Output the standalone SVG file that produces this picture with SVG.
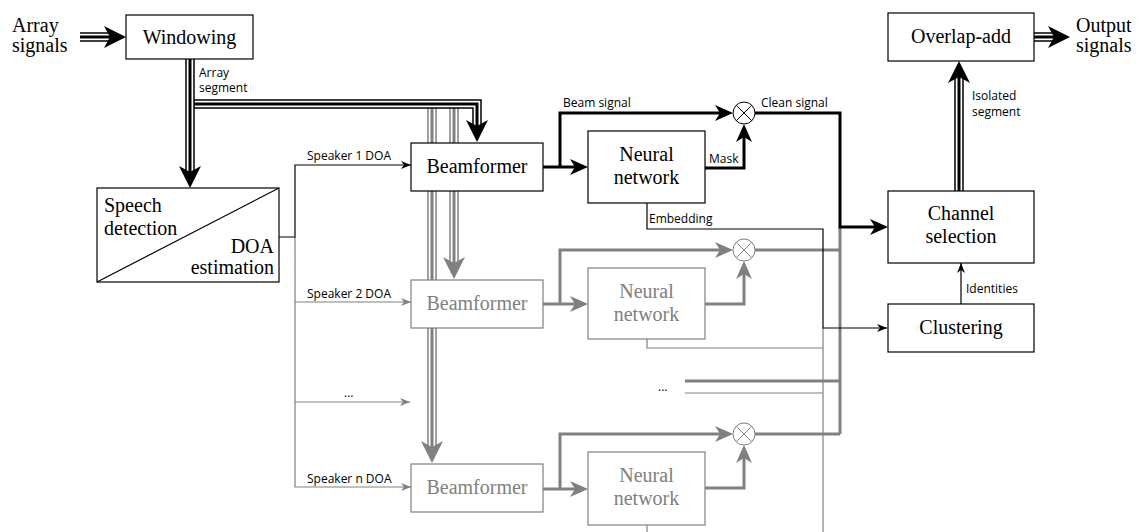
<svg xmlns="http://www.w3.org/2000/svg" xmlns:xlink="http://www.w3.org/1999/xlink" width="1142" height="532" viewBox="0 0 1142 532">
<style>
.node rect{fill:#fff;stroke:#000;stroke-width:1.2}
.gnode rect{fill:#fff;stroke:#808080;stroke-width:1.2}
.nt{font-size:20px;fill:#000;text-anchor:middle}
.gnode .nt{fill:#808080}
.lt{font-size:12px;fill:#000}
.thin{fill:none;stroke:#000;stroke-width:1.2}
.gthin{fill:none;stroke:#808080;stroke-width:1.2}
.thick{fill:none;stroke:#000;stroke-width:3}
.gthick{fill:none;stroke:#808080;stroke-width:3}
.o{fill:none;stroke:#000;stroke-width:9.5;stroke-linejoin:miter}
.w{fill:none;stroke:#fff;stroke-width:6.5;stroke-linejoin:miter}
.c{fill:none;stroke:#000;stroke-width:3;stroke-linejoin:miter}
.go{fill:none;stroke:#808080;stroke-width:9.5}
.gc{fill:none;stroke:#808080;stroke-width:3}
.mul circle{fill:#fff;stroke:#000;stroke-width:1}
.mul line{stroke:#000;stroke-width:1}
.gmul circle{fill:#fff;stroke:#808080;stroke-width:1}
.gmul line{stroke:#808080;stroke-width:1}
</style>
<defs>
<marker id="at" viewBox="0 0 10 8" refX="10" refY="4" markerWidth="10" markerHeight="8" markerUnits="userSpaceOnUse" orient="auto"><path d="M0,0 L10,4 L0,8 L3,4 Z" fill="#000"/></marker>
<marker id="gat" viewBox="0 0 10 8" refX="10" refY="4" markerWidth="10" markerHeight="8" markerUnits="userSpaceOnUse" orient="auto"><path d="M0,0 L10,4 L0,8 L3,4 Z" fill="#808080"/></marker>
<marker id="ak" viewBox="0 0 18 16" refX="5" refY="8" markerWidth="18" markerHeight="16" markerUnits="userSpaceOnUse" orient="auto"><path d="M0,0 L18,8 L0,16 L5,8 Z" fill="#000"/></marker>
<marker id="gak" viewBox="0 0 18 16" refX="5" refY="8" markerWidth="18" markerHeight="16" markerUnits="userSpaceOnUse" orient="auto"><path d="M0,0 L18,8 L0,16 L5,8 Z" fill="#808080"/></marker>
<path id="bighead" d="M0,0 L-22,-11 L-16,0 L-22,11 Z"/>
<path id="bIn" d="M80,37 H112"/>
<path id="bOut" d="M1034,37 H1056"/>
<path id="bIso" d="M959,191 V75"/>
<path id="bDown" d="M190,59 V174"/>
<path id="bHor" d="M190,104 H477 V128"/>
<path id="gA" d="M432,104 V449"/>
<path id="gB" d="M454,104 V265"/>
</defs>

<g id="connectors">
  <use xlink:href="#gA" class="go"/><use xlink:href="#gA" class="w"/><use xlink:href="#gA" class="gc"/>
  <use xlink:href="#gB" class="go"/><use xlink:href="#gB" class="w"/><use xlink:href="#gB" class="gc"/>
  <use xlink:href="#bighead" transform="translate(432,463) rotate(90)" fill="#808080"/>
  <use xlink:href="#bighead" transform="translate(454,279) rotate(90)" fill="#808080"/>
  <use xlink:href="#bHor" class="o"/><use xlink:href="#bHor" class="w"/><use xlink:href="#bHor" class="c"/>
  <use xlink:href="#bDown" class="o"/><use xlink:href="#bDown" class="w"/><use xlink:href="#bDown" class="c"/>
  <use xlink:href="#bighead" transform="translate(477,142) rotate(90)" fill="#000"/>
  <use xlink:href="#bighead" transform="translate(190,188) rotate(90)" fill="#000"/>
  <use xlink:href="#bIn" class="o"/><use xlink:href="#bIn" class="w"/><use xlink:href="#bIn" class="c"/>
  <use xlink:href="#bighead" transform="translate(126,37)" fill="#000"/>
  <use xlink:href="#bOut" class="o"/><use xlink:href="#bOut" class="w"/><use xlink:href="#bOut" class="c"/>
  <use xlink:href="#bighead" transform="translate(1070,37)" fill="#000"/>
  <use xlink:href="#bIso" class="o"/><use xlink:href="#bIso" class="w"/><use xlink:href="#bIso" class="c"/>
  <use xlink:href="#bighead" transform="translate(959,61) rotate(-90)" fill="#000"/>

  <path class="gthin" d="M295,237 V487 H411" marker-end="url(#gat)"/>
  <path class="gthin" d="M295,302 H411" marker-end="url(#gat)"/>
  <path class="gthin" d="M295,402 H410" marker-end="url(#gat)"/>
  <path class="thin" d="M279,237 H295 V165 H411" marker-end="url(#at)"/>

  <path class="gthick" d="M840,227 V434"/>
  <path class="gthick" d="M685,381 H840"/>
  <path class="gthick" d="M755,250 H840"/>
  <path class="gthick" d="M755,434 H840"/>
  <path class="gthick" d="M543,304 H575" marker-end="url(#gak)"/>
  <path class="gthick" d="M560,304 V250 H720" marker-end="url(#gak)"/>
  <path class="gthick" d="M705,304 H744 V274" marker-end="url(#gak)"/>
  <path class="gthick" d="M543,489 H575" marker-end="url(#gak)"/>
  <path class="gthick" d="M560,489 V434 H720" marker-end="url(#gak)"/>
  <path class="gthick" d="M705,488 H744 V458" marker-end="url(#gak)"/>
  <path class="gthin" d="M823,328 V532"/>
  <path class="gthin" d="M647,339 V348 H823"/>
  <path class="gthin" d="M685,393 H823"/>
  <path class="gthin" d="M647,525 V532"/>

  <path class="thick" d="M543,167 H575" marker-end="url(#ak)"/>
  <path class="thick" d="M560,167 V113 H720" marker-end="url(#ak)"/>
  <path class="thick" d="M705,168 H744 V137" marker-end="url(#ak)"/>
  <path class="thick" d="M755,113 H840 V227 H875" marker-end="url(#ak)"/>
  <path class="thin" d="M647,203 V229 H823 V328 H887" marker-end="url(#at)"/>
  <path class="thin" d="M961,304 V263" marker-end="url(#at)"/>

  <g font-family="Open Sans, Liberation Sans, sans-serif">
  <text class="lt" x="199" y="77">Array</text>
  <text class="lt" x="199" y="92">segment</text>
  <text class="lt" x="307" y="160">Speaker 1 DOA</text>
  <text class="lt" x="307" y="298">Speaker 2 DOA</text>
  <text class="lt" x="344" y="397">...</text>
  <text class="lt" x="658" y="391">...</text>
  <text class="lt" x="307" y="483">Speaker n DOA</text>
  <text class="lt" x="563" y="107">Beam signal</text>
  <text class="lt" x="761" y="107">Clean signal</text>
  <text class="lt" x="709" y="163">Mask</text>
  <text class="lt" x="649" y="223">Embedding</text>
  <text class="lt" x="972" y="100">Isolated</text>
  <text class="lt" x="972" y="116">segment</text>
  <text class="lt" x="966" y="293">Identities</text>
  </g>
  <g font-family="Liberation Serif, serif">
  <text class="nt" x="12" y="32" style="text-anchor:start">Array</text>
  <text class="nt" x="12" y="52" style="text-anchor:start">signals</text>
  <text class="nt" x="1076" y="32" style="text-anchor:start">Output</text>
  <text class="nt" x="1076" y="52" style="text-anchor:start">signals</text>
  </g>
</g>

<g id="mul1" class="mul"><circle cx="744" cy="113" r="11"/><line x1="736.2" y1="105.2" x2="751.8" y2="120.8"/><line x1="736.2" y1="120.8" x2="751.8" y2="105.2"/></g>
<g id="mul2" class="gmul"><circle cx="744" cy="250" r="11"/><line x1="736.2" y1="242.2" x2="751.8" y2="257.8"/><line x1="736.2" y1="257.8" x2="751.8" y2="242.2"/></g>
<g id="muln" class="gmul"><circle cx="744" cy="434" r="11"/><line x1="736.2" y1="426.2" x2="751.8" y2="441.8"/><line x1="736.2" y1="441.8" x2="751.8" y2="426.2"/></g>

<g font-family="Liberation Serif, serif">
<g id="windowing" class="node"><rect x="126" y="15" width="127" height="44"/><text class="nt" x="189.5" y="44">Windowing</text></g>
<g id="speech" class="node"><rect x="97" y="188" width="182" height="94"/><line x1="97" y1="282" x2="279" y2="188" stroke="#000" stroke-width="1.2"/>
  <text class="nt" x="104" y="212" style="text-anchor:start">Speech</text>
  <text class="nt" x="104" y="235" style="text-anchor:start">detection</text>
  <text class="nt" x="274" y="253" style="text-anchor:end">DOA</text>
  <text class="nt" x="274" y="274" style="text-anchor:end">estimation</text></g>
<g id="beam1" class="node"><rect x="411" y="143" width="132" height="48"/><text class="nt" x="477" y="173">Beamformer</text></g>
<g id="beam2" class="gnode"><rect x="411" y="280" width="132" height="48"/><text class="nt" x="477" y="310">Beamformer</text></g>
<g id="beamn" class="gnode"><rect x="411" y="464" width="132" height="48"/><text class="nt" x="477" y="494">Beamformer</text></g>
<g id="nn1" class="node"><rect x="588" y="131" width="117" height="72"/><text class="nt" x="646.5" y="161">Neural</text><text class="nt" x="646.5" y="184">network</text></g>
<g id="nn2" class="gnode"><rect x="588" y="268" width="117" height="71"/><text class="nt" x="646.5" y="298">Neural</text><text class="nt" x="646.5" y="321">network</text></g>
<g id="nnn" class="gnode"><rect x="588" y="452" width="117" height="73"/><text class="nt" x="646.5" y="482">Neural</text><text class="nt" x="646.5" y="505">network</text></g>
<g id="overlap" class="node"><rect x="888" y="13" width="146" height="48"/><text class="nt" x="961" y="43">Overlap-add</text></g>
<g id="chansel" class="node"><rect x="888" y="191" width="146" height="72"/><text class="nt" x="961" y="220">Channel</text><text class="nt" x="961" y="243">selection</text></g>
<g id="cluster" class="node"><rect x="888" y="304" width="146" height="48"/><text class="nt" x="961" y="334">Clustering</text></g>
</g>
</svg>
